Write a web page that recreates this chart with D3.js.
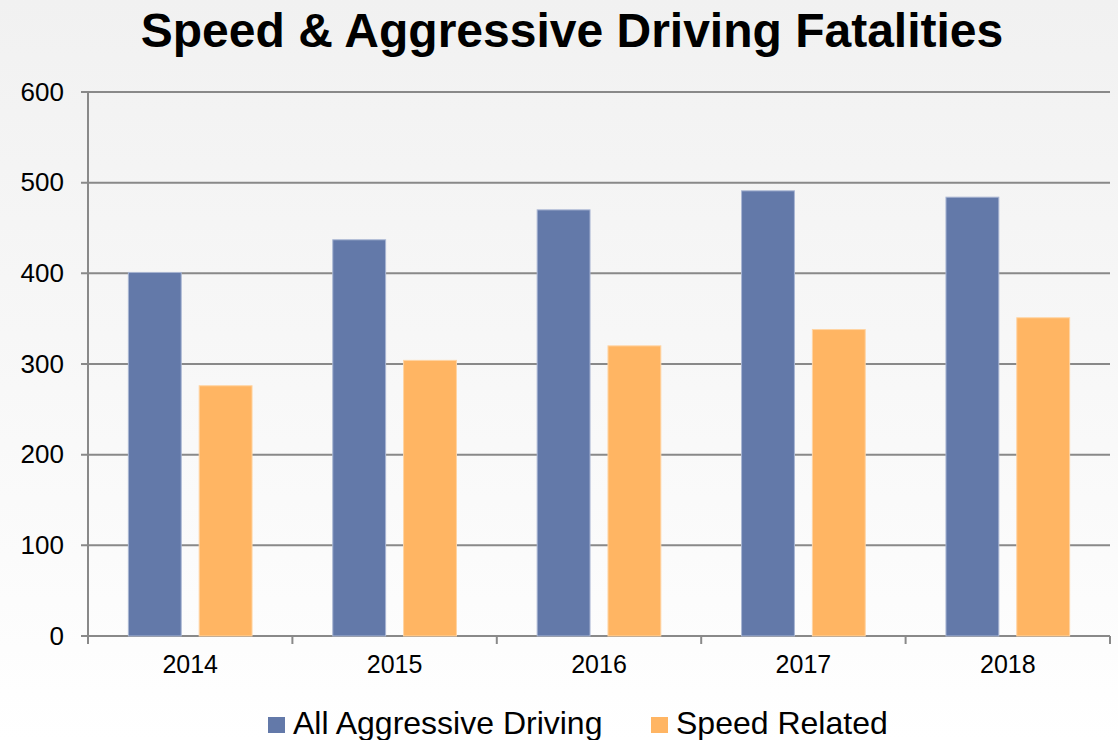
<!DOCTYPE html>
<html>
<head>
<meta charset="utf-8">
<script src="https://cdn.jsdelivr.net/npm/d3@7"></script>
<style>
  html, body { margin: 0; padding: 0; background: #fff; }
  svg { display: block; font-family: "Liberation Sans", Arial, sans-serif; }
</style>
</head>
<body>
<div id="chart"></div>
<script>
// data
const years = ['2014', '2015', '2016', '2017', '2018'];
const seriesNames = ['All Aggressive Driving', 'Speed Related'];
const aggressive = [401, 437, 470, 491, 484];
const speed = [276, 304, 320, 338, 351];
const yTicks = [0, 100, 200, 300, 400, 500, 600];

const colors = ['#6379a9', '#ffb563'];
const strokes = ['#a9b6d3', '#ffd4a3'];
const fontFamily = '"Liberation Sans", Arial, sans-serif';

const width = 1118, height = 740;
const margins = { top: 92, left: 88, right: 8, bottom: 104 };

const svg = d3.select('#chart').append('svg')
    .attr('width', width)
    .attr('height', height);

// slide background
const grad = svg.append('defs').append('linearGradient')
    .attr('id', 'bg')
    .attr('x1', 0).attr('y1', 0).attr('x2', 0).attr('y2', 1);
grad.append('stop').attr('offset', '0%').attr('stop-color', '#f1f1f1');
grad.append('stop').attr('offset', '75%').attr('stop-color', '#fbfbfb');
grad.append('stop').attr('offset', '100%').attr('stop-color', '#ffffff');
svg.append('rect')
    .attr('width', width).attr('height', height)
    .attr('fill', 'url(#bg)');

const x = d3.scaleBand()
    .domain(years)
    .range([margins.left, width - margins.right]);

const xInner = d3.scaleBand()
    .domain(seriesNames)
    .range([0, x.bandwidth()])
    .paddingInner(0.2535)
    .paddingOuter(0.57);

const y = d3.scaleLinear()
    .domain([0, 600])
    .range([height - margins.bottom, margins.top]);

const axisColor = '#898989';

// gridlines
svg.append('g')
    .selectAll('line')
    .data(yTicks)
    .enter()
    .append('line')
    .attr('x1', margins.left - 7)
    .attr('x2', width - margins.right)
    .attr('y1', d => y(d))
    .attr('y2', d => y(d))
    .attr('stroke', axisColor)
    .attr('stroke-width', 2);

// bars
const table = years.map((yr, i) => ({ year: yr, values: [aggressive[i], speed[i]] }));

const groups = svg.append('g')
    .selectAll('g.year')
    .data(table)
    .enter()
    .append('g')
    .attr('class', 'year')
    .attr('transform', d => 'translate(' + x(d.year) + ',0)');

groups.selectAll('rect')
    .data(d => d.values.map((v, i) => ({ name: seriesNames[i], value: v, i: i })))
    .enter()
    .append('rect')
    .attr('x', d => xInner(d.name))
    .attr('width', xInner.bandwidth())
    .attr('y', d => y(d.value))
    .attr('height', d => y(0) - y(d.value))
    .attr('fill', d => colors[d.i])
    .attr('stroke', d => strokes[d.i])
    .attr('stroke-width', 1);

// y axis
const yAxis = svg.append('g')
    .attr('transform', 'translate(' + margins.left + ',0)')
    .call(d3.axisLeft(y).tickValues(yTicks).tickSize(0).tickPadding(24));
yAxis.select('.domain').remove();
yAxis.selectAll('text')
    .attr('fill', '#000')
    .style('font-size', '26px')
    .style('font-family', fontFamily);

svg.append('line')
    .attr('x1', margins.left).attr('x2', margins.left)
    .attr('y1', margins.top).attr('y2', y(0) + 8)
    .attr('stroke', axisColor).attr('stroke-width', 2);

// x axis
const xAxis = svg.append('g')
    .attr('transform', 'translate(0,' + y(0) + ')')
    .call(d3.axisBottom(x).tickSize(0).tickPadding(19));
xAxis.select('.domain').remove();
xAxis.selectAll('text')
    .attr('fill', '#000')
    .style('font-size', '25px')
    .style('font-family', fontFamily);

svg.append('g')
    .selectAll('line')
    .data(years.map(yr => x(yr)).concat([x(years[years.length - 1]) + x.bandwidth()]))
    .enter()
    .append('line')
    .attr('x1', d => d).attr('x2', d => d)
    .attr('y1', y(0)).attr('y2', y(0) + 8)
    .attr('stroke', axisColor).attr('stroke-width', 2);

// title
svg.append('text')
    .attr('x', 572)
    .attr('y', 47)
    .attr('text-anchor', 'middle')
    .style('font-size', '48px')
    .style('font-weight', 'bold')
    .style('font-family', fontFamily)
    .text('Speed & Aggressive Driving Fatalities');

// legend
const legendX = [268, 651];
const legend = svg.append('g')
    .selectAll('g')
    .data(seriesNames)
    .enter()
    .append('g')
    .attr('transform', (d, i) => 'translate(' + legendX[i] + ',0)');
legend.append('rect')
    .attr('x', 0).attr('y', 717)
    .attr('width', 17).attr('height', 16)
    .attr('fill', (d, i) => colors[i]);
legend.append('text')
    .attr('x', 25)
    .attr('y', 734)
    .style('font-size', '32px')
    .style('font-family', fontFamily)
    .text(d => d);
</script>
</body>
</html>
